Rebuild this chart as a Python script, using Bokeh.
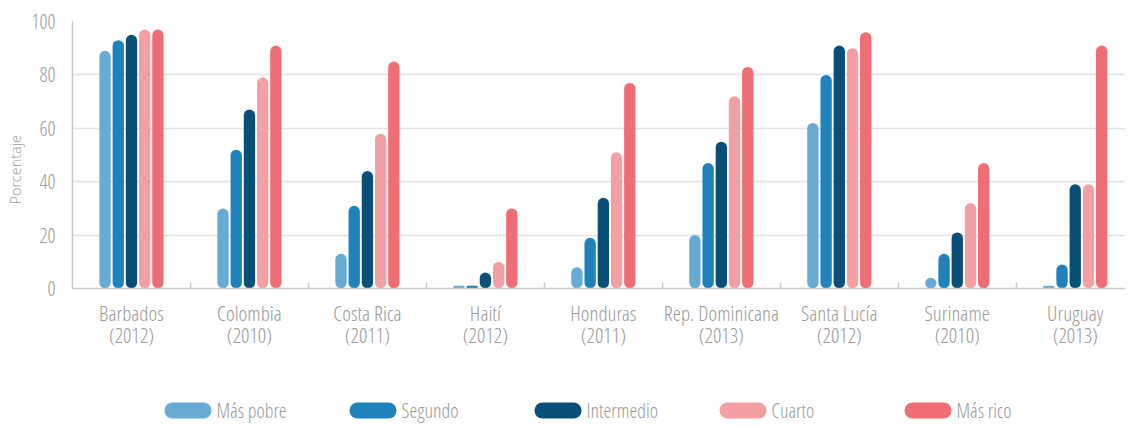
from bokeh.plotting import figure
from bokeh.layouts import column
from bokeh.models import ColumnDataSource, Range1d, FixedTicker, Title
from bokeh.core.properties import value
from bokeh.transform import dodge
from bokeh.embed import file_html
from bokeh.resources import INLINE

countries = ["Barbados\n(2012)", "Colombia\n(2010)", "Costa Rica\n(2011)", "Haití\n(2012)",
             "Honduras\n(2011)", "Rep. Dominicana\n(2013)", "Santa Lucía\n(2012)",
             "Suriname\n(2010)", "Uruguay\n(2013)"]
series = ["Más pobre", "Segundo", "Intermedio", "Cuarto", "Más rico"]

mas_pobre  = [89, 30, 13, 1, 8, 20, 62, 4, 1]
segundo    = [93, 52, 31, 1, 19, 47, 80, 13, 9]
intermedio = [95, 67, 44, 6, 34, 55, 91, 21, 39]
cuarto     = [97, 79, 58, 10, 51, 72, 90, 32, 39]
mas_rico   = [97, 91, 85, 30, 77, 83, 96, 47, 91]

y_ticks = [0, 20, 40, 60, 80, 100]
y_title = "Porcentaje"

colors = ["#67aad4", "#1f82bb", "#0a4f78", "#f2a0a4", "#ee6e74"]

FONT = "'Open Sans Condensed Light', 'Open Sans Condensed', 'Open Sans'"
FONT2 = "'Open Sans Light', 'Open Sans'"
TXT = "#9a9a9a"
AXC = "#c8c8c8"

idx = list(range(len(countries)))
src = ColumnDataSource(dict(idx=idx, s0=mas_pobre, s1=segundo, s2=intermedio, s3=cuarto, s4=mas_rico))

p = figure(width=1125, height=365, output_backend="svg", toolbar_location=None,
           x_range=Range1d(-0.5, 8.426), y_range=Range1d(0, 100),
           min_border_left=72, min_border_right=0, min_border_top=21, min_border_bottom=77)
p.outline_line_color = None

step = 0.112
bw = 0.096
for k in range(5):
    p.vbar(x=dodge("idx", (k - 2) * step), top="s%d" % k, bottom=0, width=bw,
           fill_color=colors[k], line_color=None, border_radius=6, source=src)

p.xgrid.visible = False
p.ygrid.ticker = FixedTicker(ticks=y_ticks[1:])
p.ygrid.grid_line_color = "#e2e2e2"
p.ygrid.grid_line_width = 1.5

xa = p.xaxis[0]
xa.ticker = FixedTicker(ticks=idx, minor_ticks=[i + 0.5 for i in idx[:-1]])
xa.major_label_overrides = {i: c for i, c in zip(idx, countries)}
xa.major_tick_in = 0
xa.major_tick_out = 0
xa.minor_tick_in = 6
xa.minor_tick_out = 0
xa.minor_tick_line_color = AXC
xa.minor_tick_line_width = 1.5
xa.axis_line_color = AXC
xa.axis_line_width = 1.5
xa.major_label_standoff = 10
xa.major_label_text_font = FONT
xa.major_label_text_font_size = "21px"
xa.major_label_text_color = TXT
xa.major_label_text_line_height = 0.82

ya = p.yaxis[0]
ya.ticker = FixedTicker(ticks=y_ticks)
ya.major_tick_in = 0
ya.major_tick_out = 0
ya.minor_tick_line_color = None
ya.axis_line_color = AXC
ya.axis_line_width = 1.5
ya.major_label_standoff = 17
ya.major_label_text_font = FONT
ya.major_label_text_font_size = "20px"
ya.major_label_text_color = TXT

# y-axis title as a side title so it can sit below the frame centre, as in the original
p.add_layout(Title(text=y_title, align="left", offset=84, standoff=7,
                   text_font=FONT2, text_font_size="14.5px", text_font_style="normal",
                   text_color=TXT), "left")

# legend strip below the chart; its ranges follow page pixels
lf = figure(frame_width=1053, frame_height=58, output_backend="svg", toolbar_location=None,
            x_range=Range1d(76, 1129), y_range=Range1d(426, 368),
            min_border=0, min_border_left=0, min_border_right=0,
            min_border_top=0, min_border_bottom=0,
            x_axis_type=None, y_axis_type=None)
lf.outline_line_color = None
lf.grid.visible = False
leg_start, leg_step, sw_w, sw_h, leg_y = 168, 185, 47, 16, 413
lefts = [leg_start + i * leg_step for i in range(len(series))]
lsrc = ColumnDataSource(dict(left=lefts, right=[l + sw_w for l in lefts],
                             tx=[l + sw_w + 5 for l in lefts], y=[leg_y] * len(series),
                             label=series, color=colors))
lf.hbar(y="y", left="left", right="right", height=sw_h, fill_color="color",
        line_color=None, border_radius=8, source=lsrc)
lf.text(x="tx", y="y", text="label", text_baseline="middle", text_align="left",
        text_font=value(FONT), text_font_size="20px", text_color=TXT, source=lsrc)

layout = column(p, lf, spacing=0)
open("out.html", "w").write(file_html(layout, INLINE))
